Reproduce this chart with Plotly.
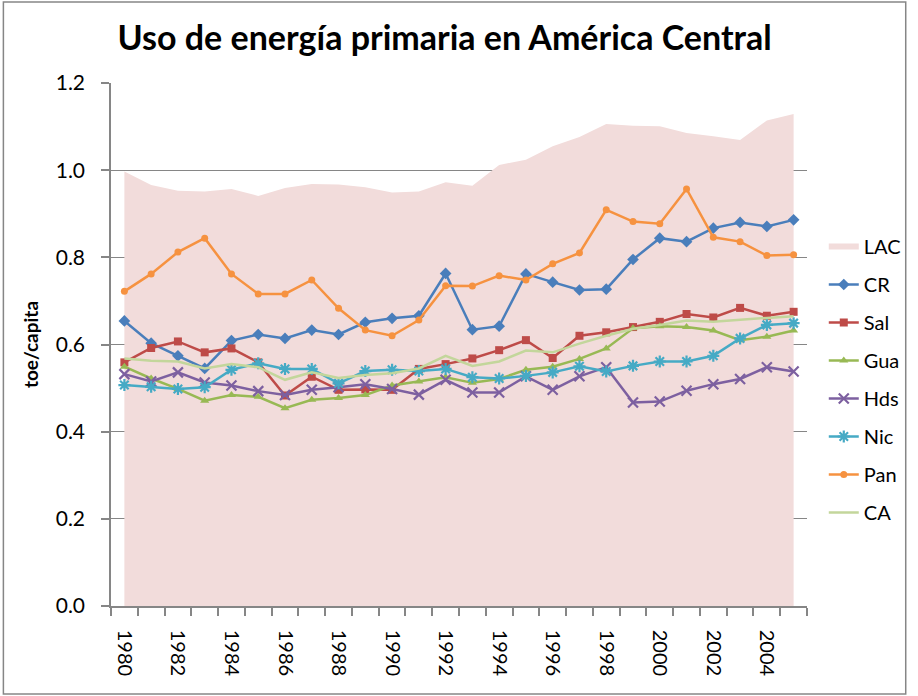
import plotly.graph_objects as go

years = list(range(1980, 2006))

lac = [0.997, 0.966, 0.953, 0.951, 0.957, 0.941, 0.959, 0.968, 0.967, 0.961, 0.949, 0.951, 0.972,
       0.964, 1.012, 1.024, 1.055, 1.076, 1.106, 1.102, 1.101, 1.085, 1.078, 1.069, 1.114, 1.129]
cr = [0.654, 0.603, 0.574, 0.545, 0.609, 0.623, 0.614, 0.633, 0.623, 0.651, 0.660, 0.666, 0.763,
      0.634, 0.642, 0.762, 0.743, 0.725, 0.727, 0.795, 0.844, 0.836, 0.867, 0.880, 0.871, 0.886]
sal = [0.559, 0.592, 0.607, 0.582, 0.591, 0.559, 0.483, 0.526, 0.496, 0.497, 0.496, 0.544, 0.555,
       0.568, 0.587, 0.610, 0.569, 0.620, 0.628, 0.640, 0.652, 0.670, 0.662, 0.684, 0.666, 0.675]
gua = [0.549, 0.522, 0.498, 0.471, 0.484, 0.480, 0.454, 0.473, 0.477, 0.484, 0.506, 0.515, 0.525,
       0.512, 0.521, 0.542, 0.549, 0.567, 0.591, 0.637, 0.642, 0.640, 0.632, 0.610, 0.618, 0.632]
hds = [0.532, 0.515, 0.536, 0.513, 0.506, 0.493, 0.484, 0.496, 0.502, 0.509, 0.498, 0.485, 0.519,
       0.490, 0.490, 0.527, 0.496, 0.527, 0.548, 0.467, 0.469, 0.494, 0.509, 0.521, 0.548, 0.538]
nic = [0.507, 0.503, 0.498, 0.502, 0.542, 0.557, 0.544, 0.544, 0.511, 0.539, 0.542, 0.539, 0.544,
       0.525, 0.522, 0.528, 0.536, 0.550, 0.538, 0.551, 0.561, 0.561, 0.574, 0.614, 0.645, 0.649]
pan = [0.722, 0.762, 0.812, 0.844, 0.762, 0.716, 0.716, 0.748, 0.683, 0.633, 0.620, 0.656, 0.735,
       0.734, 0.758, 0.748, 0.785, 0.810, 0.909, 0.882, 0.877, 0.957, 0.846, 0.836, 0.804, 0.806]
ca = [0.568, 0.563, 0.561, 0.545, 0.555, 0.548, 0.519, 0.536, 0.523, 0.530, 0.534, 0.545, 0.574,
      0.551, 0.561, 0.586, 0.582, 0.602, 0.620, 0.636, 0.645, 0.655, 0.652, 0.657, 0.661, 0.665]

x_tick_years = list(range(1980, 2005, 2))
y_ticks = [0.0, 0.2, 0.4, 0.6, 0.8, 1.0, 1.2]

FONT = "Lato"
W, H = 918, 696
ML, MR, MT, MB = 111, 102, 83, 90
PW, PH = W - ML - MR, H - MT - MB

fig = go.Figure()

fig.add_trace(go.Scatter(x=years, y=lac, name="LAC", mode="none", fill="tozeroy",
                         fillcolor="#F2DCDB", legendgroup="LAC"))

series = [
    ("CR", cr, "#4A7EBB", dict(symbol="diamond", size=9)),
    ("Sal", sal, "#BE4B48", dict(symbol="square", size=8)),
    ("Gua", gua, "#98B954", dict(symbol="triangle-up", size=8)),
    ("Hds", hds, "#7D60A0", dict(symbol="x-thin-open", size=10, line=dict(width=2.2))),
    ("Nic", nic, "#46AAC5", dict(symbol="asterisk-open", size=10, line=dict(width=2.2))),
    ("Pan", pan, "#F69240", dict(symbol="circle", size=7)),
]
for name, vals, col, mk in series:
    mk = dict(mk)
    mk["color"] = col
    if "line" in mk:
        mk["line"]["color"] = col
    fig.add_trace(go.Scatter(x=years, y=vals, name=name, mode="lines+markers",
                             line=dict(color=col, width=2.5), marker=mk, legendgroup=name))

fig.add_trace(go.Scatter(x=years, y=ca, name="CA", mode="lines",
                         line=dict(color="#C3D69B", width=2.5), legendgroup="CA"))

fig.update_layout(
    width=W, height=H,
    margin=dict(l=ML, r=MR, t=MT, b=MB),
    paper_bgcolor="white", plot_bgcolor="white",
    font=dict(family=FONT, size=18, color="#000000"),
    title=dict(text="<b>Uso de energía primaria en América Central</b>",
               x=(449 - ML) / PW, xref="paper", xanchor="center",
               y=1 - 38 / H, yanchor="middle",
               font=dict(family=FONT, size=34, color="#000000")),
    xaxis=dict(range=[1979.5, 2005.5], tickvals=x_tick_years,
               ticktext=[str(y) for y in x_tick_years], tickangle=90,
               ticks="", showgrid=False, showline=True, linecolor="#868686", linewidth=1.5,
               ticklabelstandoff=18,
               tickfont=dict(family=FONT, size=20, color="#000000"),
               minor=dict(tickvals=[y - 0.5 for y in years] + [2005.5], ticks="outside",
                          ticklen=8, tickcolor="#868686", tickwidth=1.5, showgrid=False),
               zeroline=False),
    yaxis=dict(range=[0, 1.2], tickvals=y_ticks, tickformat=".1f",
               ticks="outside", ticklen=8, tickcolor="#868686", tickwidth=1.5,
               showgrid=True, gridcolor="#868686", gridwidth=1.2,
               showline=True, linecolor="#868686", linewidth=1.5,
               zeroline=False, ticklabelstandoff=12,
               tickfont=dict(family=FONT, size=21, color="#000000"),
               title=dict(text="<b>toe/capita</b>", standoff=12,
                          font=dict(family=FONT, size=19, color="#000000"))),
    legend=dict(x=(833 - ML) / PW, xanchor="left", y=(H - MB - 227) / PH, yanchor="top",
                font=dict(family=FONT, size=20, color="#000000"),
                tracegroupgap=9, bgcolor="rgba(0,0,0,0)"),
    shapes=[dict(type="rect", xref="paper", yref="paper",
                 x0=(2 - ML) / PW, x1=(916 - ML) / PW,
                 y0=(H - MB - 694) / PH, y1=(H - MB - 2) / PH,
                 line=dict(color="#868686", width=1.5), fillcolor="rgba(0,0,0,0)")],
)

fig.write_html("out.html", config={"displayModeBar": False},
               post_script="document.body.style.margin='0px';document.body.style.padding='0px';"
                           "document.body.style.overflow='hidden';"
                           "document.documentElement.style.overflow='hidden';")
